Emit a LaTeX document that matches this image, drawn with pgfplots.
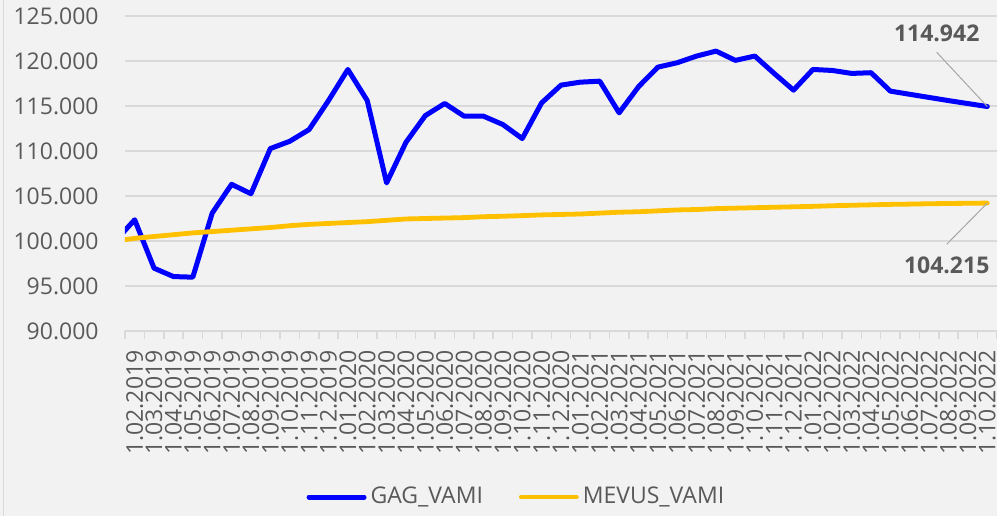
\documentclass[border=0pt]{standalone}
\usepackage{fontspec}
\setmainfont{Open Sans}
\usepackage{pgfplots}
\pgfplotsset{compat=1.18}
\definecolor{bg}{HTML}{F2F2F2}
\definecolor{gridc}{HTML}{D9D9D9}
\definecolor{txt}{HTML}{595959}
\definecolor{gagblue}{HTML}{0000FF}
\definecolor{mevyellow}{HTML}{FFC000}
\definecolor{leader}{HTML}{A6A6A6}
\begin{document}
\begin{tikzpicture}[font=\fontsize{11.5}{13.8}\selectfont]
\useasboundingbox (0,0) rectangle (498.5pt,258pt);
\fill[bg] (0,0) rectangle (498.5pt,258pt);
\draw[gridc, line width=0.6pt] (1.7pt,0) -- (1.7pt,258pt);
\begin{axis}[
  name=ax, at={(62.5pt,92.5pt)}, anchor=south west,
  scale only axis, width=436pt, height=157.5pt,
  xmin=-0.5, xmax=44.5, ymin=90, ymax=125,
  axis line style={draw=none},
  ytick={90,95,...,125},
  ymajorgrids, grid style={gridc, line width=0.75pt},
  major tick length=0pt,
  tick pos=left,
  xtick={0,...,44},
  xticklabels={1.02.2019,1.03.2019,1.04.2019,1.05.2019,1.06.2019,1.07.2019,1.08.2019,1.09.2019,1.10.2019,1.11.2019,1.12.2019,
    1.01.2020,1.02.2020,1.03.2020,1.04.2020,1.05.2020,1.06.2020,1.07.2020,1.08.2020,1.09.2020,1.10.2020,1.11.2020,1.12.2020,
    1.01.2021,1.02.2021,1.03.2021,1.04.2021,1.05.2021,1.06.2021,1.07.2021,1.08.2021,1.09.2021,1.10.2021,1.11.2021,1.12.2021,
    1.01.2022,1.02.2022,1.03.2022,1.04.2022,1.05.2022,1.06.2022,1.07.2022,1.08.2022,1.09.2022,1.10.2022},
  minor xtick={-0.5,0.5,...,44.5},
  minor tick length=3.75pt,
  tick align=outside,
  minor tick style={gridc, line width=0.75pt},
  xticklabel style={rotate=90, anchor=east, inner sep=0pt, text=txt},
  xticklabel shift=9.5pt,
  yticklabel style={anchor=east, inner sep=0pt, text=txt,
    /pgf/number format/.cd, fixed, fixed zerofill, precision=3, assume math mode=true},
  yticklabel shift=13pt,
  legend style={at={(0.450,-0.527)}, anchor=center, draw=none, fill=none,
    legend columns=2, text=txt,
    /tikz/every even column/.append style={column sep=16pt}},
  legend image code/.code={\draw[#1, line cap=round] (0pt,0pt) -- (27.5pt,0pt);},
]
\addplot[gagblue, line width=2.5pt, line join=round, line cap=round] coordinates {
(-1,100) (0,102.36) (1,96.98) (2,96.05) (3,95.98) (4,103.1) (5,106.3) (6,105.25) (7,110.27) (8,111.08)
(9,112.38) (10,115.6) (11,119.06) (12,115.61) (13,106.45) (14,110.97) (15,113.94) (16,115.28) (17,113.87)
(18,113.87) (19,112.94) (20,111.38) (21,115.35) (22,117.32) (23,117.65) (24,117.76) (25,114.24) (26,117.14)
(27,119.32) (28,119.81) (29,120.55) (30,121.1) (31,120.07) (32,120.55) (33,118.62) (34,116.76) (35,119.06)
(36,118.95) (37,118.62) (38,118.7) (39,116.65) (40,116.3) (41,115.95) (42,115.6) (43,115.27) (44,114.942)};
\addlegendentry{GAG\_VAMI}
\addplot[mevyellow, line width=2.4pt, line join=round, line cap=round] coordinates {
(-1,100) (0,100.3) (1,100.5) (2,100.7) (3,100.9) (4,101.05) (5,101.2) (6,101.35) (7,101.5) (8,101.7)
(9,101.85) (10,101.95) (11,102.05) (12,102.15) (13,102.3) (14,102.45) (15,102.5) (16,102.55) (17,102.6)
(18,102.7) (19,102.75) (20,102.82) (21,102.9) (22,102.95) (23,103.0) (24,103.1) (25,103.2) (26,103.25)
(27,103.35) (28,103.45) (29,103.5) (30,103.6) (31,103.65) (32,103.7) (33,103.75) (34,103.8) (35,103.85)
(36,103.92) (37,103.97) (38,104.02) (39,104.07) (40,104.1) (41,104.14) (42,104.17) (43,104.19) (44,104.215)};
\addlegendentry{MEVUS\_VAMI}
\coordinate (pG) at (axis cs:44,114.942);
\coordinate (pM) at (axis cs:44,104.215);
\end{axis}
\draw[gridc, line width=0.75pt] (ax.south west) -- (ax.south east);
\draw[leader, line width=0.5pt] (468.35pt,231.85pt) -- (pG);
\draw[leader, line width=0.5pt] (473.35pt,135.85pt) -- (pM);
\node[font=\fontsize{11.5}{13.8}\selectfont\bfseries, text=txt, inner sep=0pt] at (468.35pt,241.35pt) {114.942};
\node[font=\fontsize{11.5}{13.8}\selectfont\bfseries, text=txt, inner sep=0pt] at (473.35pt,125.35pt) {104.215};
\end{tikzpicture}
\end{document}
